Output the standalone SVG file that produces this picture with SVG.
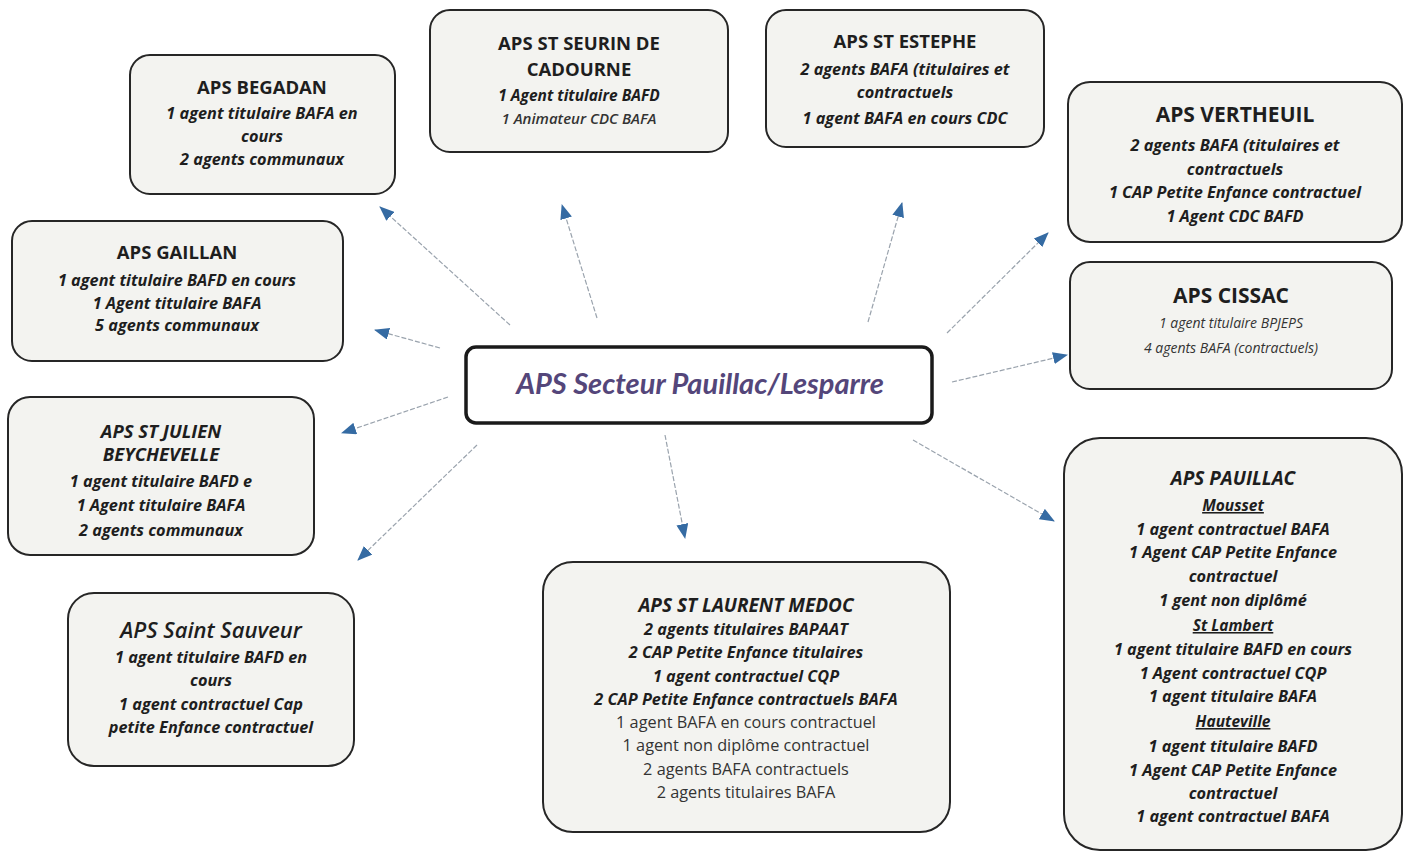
<svg xmlns="http://www.w3.org/2000/svg" width="1408" height="856" viewBox="0 0 1408 856">
<defs>
<marker id="ah" markerUnits="userSpaceOnUse" markerWidth="16" markerHeight="12" refX="14" refY="6" orient="auto">
<path d="M0,0 L15,6 L0,12 z" fill="#356ba3"/>
</marker>
<style>
.box{fill:#f3f3f0;stroke:#262626;stroke-width:2}
.t{font-family:"Open Sans","Liberation Sans",sans-serif;text-anchor:middle;fill:#1e1e1e}
.h{font-size:18.5px;font-weight:700}
.hi{font-size:18.5px;font-weight:700;font-style:italic}
.b{font-size:16.3px;font-weight:700;font-style:italic}
.r{font-size:16.3px;font-weight:400;fill:#333}
.ri{font-size:14px;font-style:italic;font-weight:400;fill:#333}
.u{text-decoration:underline;font-size:15.5px;font-weight:700;font-style:italic}
.c{stroke:#9aa3ad;stroke-width:1.2;stroke-dasharray:5 2;fill:none}
</style>
</defs>
<rect width="1408" height="856" fill="#ffffff"/>

<g id="connectors">
<line class="c" x1="510" y1="325" x2="380" y2="207" marker-end="url(#ah)"/>
<line class="c" x1="597" y1="318" x2="562" y2="205" marker-end="url(#ah)"/>
<line class="c" x1="868" y1="322" x2="902" y2="203" marker-end="url(#ah)"/>
<line class="c" x1="947" y1="333" x2="1048" y2="233" marker-end="url(#ah)"/>
<line class="c" x1="952" y1="382" x2="1067" y2="355" marker-end="url(#ah)"/>
<line class="c" x1="913" y1="440" x2="1054" y2="521" marker-end="url(#ah)"/>
<line class="c" x1="665" y1="435" x2="685" y2="538" marker-end="url(#ah)"/>
<line class="c" x1="477" y1="445" x2="358" y2="560" marker-end="url(#ah)"/>
<line class="c" x1="448" y1="397" x2="342" y2="433" marker-end="url(#ah)"/>
<line class="c" x1="440" y1="348" x2="375" y2="330" marker-end="url(#ah)"/>
</g>

<g id="center">
<rect x="466" y="347" width="466" height="76" rx="10" fill="#ffffff" stroke="#1a1a1a" stroke-width="3.5"/>
<text x="700" y="394" text-anchor="middle" style="font-family:Lato,'Open Sans',sans-serif;font-size:29px;font-style:italic;font-weight:700;fill:#54467a">APS Secteur Pauillac/Lesparre</text>
</g>

<g id="begadan">
<rect class="box" x="130" y="55" width="265" height="139" rx="20"/>
<text class="t h" x="262" y="94">APS BEGADAN</text>
<text class="t b" x="262" y="119">1 agent titulaire BAFA en</text>
<text class="t b" x="262" y="142">cours</text>
<text class="t b" x="262" y="165">2 agents communaux</text>
</g>

<g id="gaillan">
<rect class="box" x="12" y="221" width="331" height="140" rx="20"/>
<text class="t h" x="177" y="259">APS GAILLAN</text>
<text class="t b" x="177" y="286">1 agent titulaire BAFD en cours</text>
<text class="t b" x="177" y="309">1 Agent titulaire BAFA</text>
<text class="t b" x="177" y="331">5 agents communaux</text>
</g>

<g id="seurin">
<rect class="box" x="430" y="10" width="298" height="142" rx="20"/>
<text class="t h" x="579" y="50">APS ST SEURIN DE</text>
<text class="t h" x="579" y="76">CADOURNE</text>
<text class="t b" x="579" y="101" style="font-size:15.5px">1 Agent titulaire BAFD</text>
<text class="t ri" x="579" y="124" style="font-weight:600;font-size:15px">1 Animateur CDC BAFA</text>
</g>

<g id="estephe">
<rect class="box" x="766" y="10" width="278" height="137" rx="20"/>
<text class="t h" x="905" y="48">APS ST ESTEPHE</text>
<text class="t b" x="905" y="75">2 agents BAFA (titulaires et</text>
<text class="t b" x="905" y="98">contractuels</text>
<text class="t b" x="905" y="124">1 agent BAFA en cours CDC</text>
</g>

<g id="vertheuil">
<rect class="box" x="1068" y="82" width="334" height="160" rx="22"/>
<text class="t" x="1235" y="122" style="font-size:21px;font-weight:700">APS VERTHEUIL</text>
<text class="t b" x="1235" y="151">2 agents BAFA (titulaires et</text>
<text class="t b" x="1235" y="175">contractuels</text>
<text class="t b" x="1235" y="198">1 CAP Petite Enfance contractuel</text>
<text class="t b" x="1235" y="222">1 Agent CDC BAFD</text>
</g>

<g id="cissac">
<rect class="box" x="1070" y="262" width="322" height="127" rx="20"/>
<text class="t" x="1231" y="303" style="font-size:21px;font-weight:700">APS CISSAC</text>
<text class="t ri" x="1231" y="328">1 agent titulaire BPJEPS</text>
<text class="t ri" x="1231" y="353">4 agents BAFA (contractuels)</text>
</g>

<g id="pauillac">
<rect class="box" x="1064" y="438" width="338" height="412" rx="36"/>
<text class="t hi" x="1233" y="485" style="font-size:19px">APS PAUILLAC</text>
<text class="t u" x="1233" y="511">Mousset</text>
<text class="t b" x="1233" y="535">1 agent contractuel BAFA</text>
<text class="t b" x="1233" y="558">1 Agent CAP Petite Enfance</text>
<text class="t b" x="1233" y="582">contractuel</text>
<text class="t b" x="1233" y="606">1 gent non diplômé</text>
<text class="t u" x="1233" y="631">St Lambert</text>
<text class="t b" x="1233" y="655">1 agent titulaire BAFD en cours</text>
<text class="t b" x="1233" y="679">1 Agent contractuel CQP</text>
<text class="t b" x="1233" y="702">1 agent titulaire BAFA</text>
<text class="t u" x="1233" y="727">Hauteville</text>
<text class="t b" x="1233" y="752">1 agent titulaire BAFD</text>
<text class="t b" x="1233" y="776">1 Agent CAP Petite Enfance</text>
<text class="t b" x="1233" y="799">contractuel</text>
<text class="t b" x="1233" y="822">1 agent contractuel BAFA</text>
</g>

<g id="laurent">
<rect class="box" x="543" y="562" width="407" height="270" rx="30"/>
<text class="t hi" x="746" y="612" style="font-size:19px">APS ST LAURENT MEDOC</text>
<text class="t b" x="746" y="635">2 agents titulaires BAPAAT</text>
<text class="t b" x="746" y="658">2 CAP Petite Enfance titulaires</text>
<text class="t b" x="746" y="682">1 agent contractuel CQP</text>
<text class="t b" x="746" y="705">2 CAP Petite Enfance contractuels BAFA</text>
<text class="t r" x="746" y="728">1 agent BAFA en cours contractuel</text>
<text class="t r" x="746" y="751">1 agent non diplôme contractuel</text>
<text class="t r" x="746" y="775">2 agents BAFA contractuels</text>
<text class="t r" x="746" y="798">2 agents titulaires BAFA</text>
</g>

<g id="sauveur">
<rect class="box" x="68" y="593" width="286" height="173" rx="26"/>
<text class="t" x="211" y="638" style="font-size:22px;font-style:italic;font-weight:600">APS Saint Sauveur</text>
<text class="t b" x="211" y="663">1 agent titulaire BAFD en</text>
<text class="t b" x="211" y="686">cours</text>
<text class="t b" x="211" y="710">1 agent contractuel Cap</text>
<text class="t b" x="211" y="733">petite Enfance contractuel</text>
</g>

<g id="julien">
<rect class="box" x="8" y="397" width="306" height="158" rx="22"/>
<text class="t hi" x="161" y="438">APS ST JULIEN</text>
<text class="t hi" x="161" y="461">BEYCHEVELLE</text>
<text class="t b" x="161" y="487">1 agent titulaire BAFD e</text>
<text class="t b" x="161" y="511">1 Agent titulaire BAFA</text>
<text class="t b" x="161" y="536">2 agents communaux</text>
</g>
</svg>
